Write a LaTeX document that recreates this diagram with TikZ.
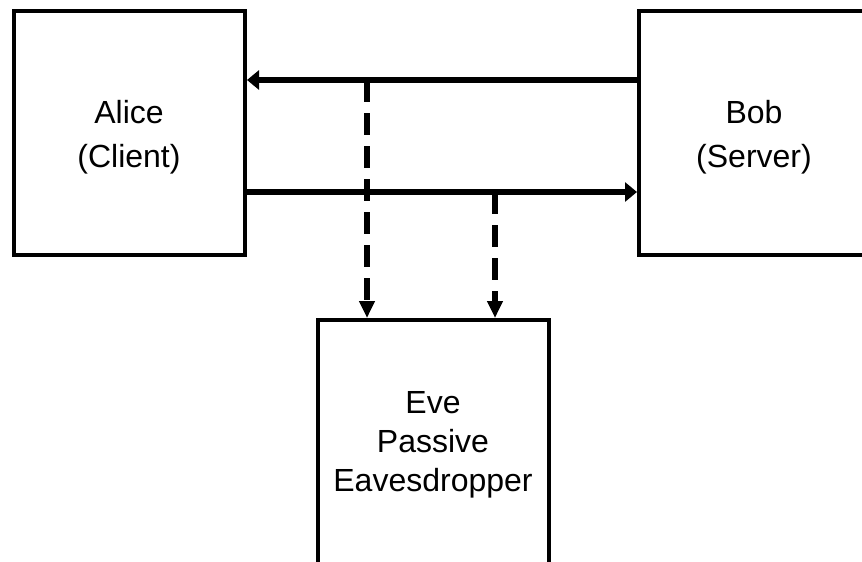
\documentclass[tikz,border=0pt]{standalone}
\usepackage{fontspec}
\setmainfont{Liberation Sans}
\usetikzlibrary{arrows.meta}
\tikzset{
  party/.style={draw=black, line width=4pt, fill=white},
  label/.style={align=center, font=\fontsize{32}{44}\selectfont},
  evelabel/.style={align=center, font=\fontsize{32}{39}\selectfont},
  msg/.style={line width=6.5pt, -{Triangle[length=12pt,width=19pt]}},
  tap/.style={line width=5.5pt, dash pattern=on 22pt off 11pt, -{Triangle[length=17pt,width=15pt]}}
}
\begin{document}
\begin{tikzpicture}[x=1pt,y=-1pt]
  \useasboundingbox (0,0) rectangle (862,562);
  \begin{scope}
    \clip (0,0) rectangle (862,562);
    % the three parties
    \draw[party] (13.5,11) rectangle (245,255);
    \draw[party] (639,11) rectangle (870,255);
    \draw[party] (318,320) rectangle (549,566);
    \node[label] (alice) at (129,137) {Alice\\(Client)};
    \node[label] (bob) at (754,137) {Bob\\(Server)};
    \node[evelabel] (eve) at (433,445) {Eve\\Passive\\Eavesdropper};
    % anchor points on the box edges
    \coordinate (aliceIn) at (247,80);
    \coordinate (bobOut) at (637,80);
    \coordinate (aliceOut) at (247,192);
    \coordinate (bobIn) at (637,192);
    \coordinate (tapA) at (367,80);
    \coordinate (tapB) at (495,192);
    \coordinate (eveA) at (367,318);
    \coordinate (eveB) at (495,318);
    % messages between client and server
    \draw[msg] (bobOut) -- (aliceIn);
    \draw[msg] (aliceOut) -- (bobIn);
    % eavesdropping taps
    \draw[tap] (tapA) -- (eveA);
    \draw[tap] (tapB) -- (eveB);
  \end{scope}
\end{tikzpicture}
\end{document}
